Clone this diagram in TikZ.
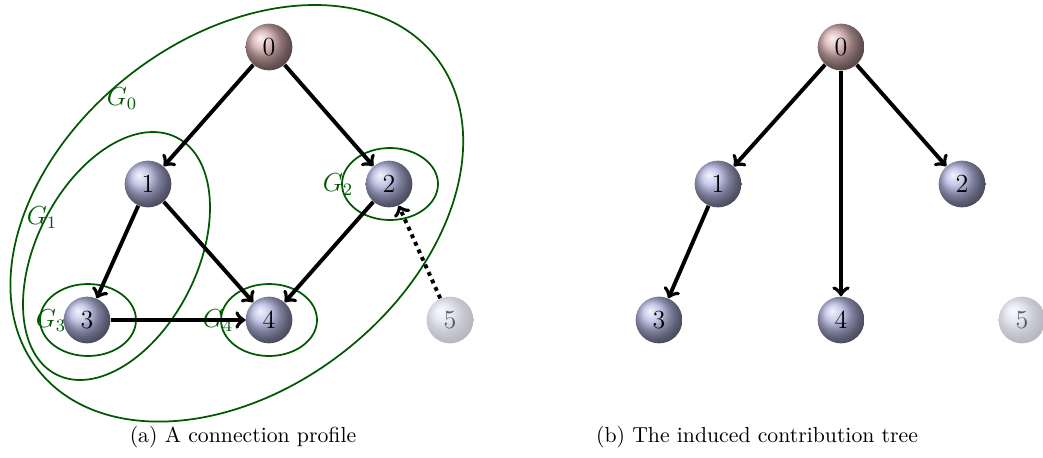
\documentclass[tikz,border=0pt]{standalone}
\usetikzlibrary{shapes.geometric}
\definecolor{rootc}{RGB}{212,172,172}
\definecolor{ballc}{RGB}{180,183,225}
\definecolor{grp}{RGB}{0,88,0}
\tikzset{
  ballnode/.style={circle, inner sep=0pt, minimum size=21.5pt, shading=ball, ball color=ballc, font=\large},
  rootnode/.style={ballnode, ball color=rootc},
  fadenode/.style={ballnode, fill opacity=0.4, text opacity=0.6},
  edge/.style={->, line width=1.8pt},
  dotedge/.style={->, line width=1.8pt, dotted},
  grpline/.style={draw=grp, thick},
  grplabel/.style={text=grp, font=\large},
  caption/.style={font=\normalsize}
}
\begin{document}
\begin{tikzpicture}[x=0.4602pt, y=0.4602pt]
\useasboundingbox (0,0) rectangle (1043,-457);
\fill[white] (0,0) rectangle (1043,-457);
% ---- left panel ----
\node[rootnode] (a0) at (269,-47) {0};
\node[ballnode] (a1) at (148,-184) {1};
\node[ballnode] (a2) at (389,-184) {2};
\node[ballnode] (a3) at (87,-320) {3};
\node[ballnode] (a4) at (269,-320) {4};
\node[fadenode] (a5) at (450,-320) {5};
% groups
\draw[grpline] (236.8,-213.3) ellipse [x radius=253, y radius=175, rotate=38.2];
\draw[grpline] (116.5,-256) ellipse [x radius=132.9, y radius=80.3, rotate=63.1];
\draw[grpline] (390,-184) ellipse [x radius=48, y radius=36];
\draw[grpline] (88,-320) ellipse [x radius=48, y radius=36];
\draw[grpline] (269,-320) ellipse [x radius=48, y radius=36];
\node[grplabel] (g0) at (122,-99) {$G_0$};
\node[grplabel] (g1) at (42,-218) {$G_1$};
\node[grplabel] (g2) at (338,-185) {$G_2$};
\node[grplabel] (g3) at (51,-321) {$G_3$};
\node[grplabel] (g4) at (218,-321) {$G_4$};
% edges
\draw[edge] (a0) -- (a1);
\draw[edge] (a0) -- (a2);
\draw[edge] (a1) -- (a3);
\draw[edge] (a1) -- (a4);
\draw[edge] (a2) -- (a4);
\draw[edge] (a3) -- (a4);
\draw[dotedge] (a5) -- (a2);
\node[caption] (ca) at (243,-437) {(a) A connection profile};
% ---- right panel ----
\node[rootnode] (b0) at (841,-47) {0};
\node[ballnode] (b1) at (718,-184) {1};
\node[ballnode] (b2) at (962,-184) {2};
\node[ballnode] (b3) at (659,-320) {3};
\node[ballnode] (b4) at (841,-320) {4};
\node[fadenode] (b5) at (1022,-320) {5};
\draw[edge] (b0) -- (b1);
\draw[edge] (b0) -- (b2);
\draw[edge] (b0) -- (b4);
\draw[edge] (b1) -- (b3);
\node[caption] (cb) at (757,-437) {(b) The induced contribution tree};
\end{tikzpicture}
\end{document}
